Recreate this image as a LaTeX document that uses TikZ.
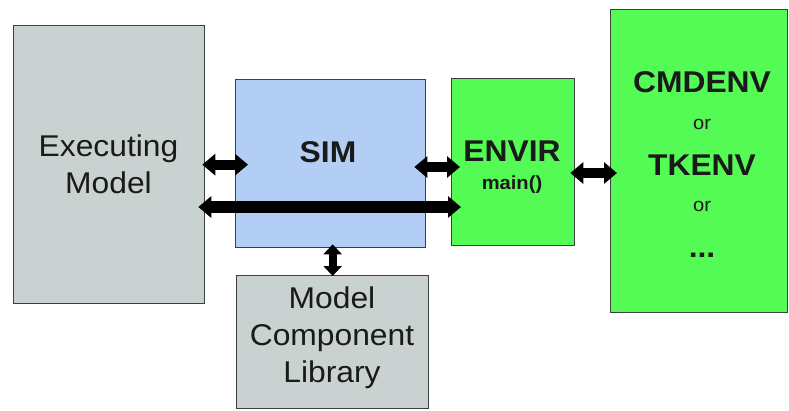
\documentclass[tikz,border=0pt]{standalone}
\usepackage{fontspec}
\setmainfont[FakeStretch=1.06]{Liberation Sans}
\usetikzlibrary{arrows.meta}
\definecolor{boxgray}{HTML}{C9D1D1}
\definecolor{simblue}{HTML}{B3CEF5}
\definecolor{envgreen}{HTML}{55FB55}
\definecolor{edge}{HTML}{3A3F3F}
\definecolor{ink}{HTML}{1A1A1A}
\begin{document}
\begin{tikzpicture}[x=1pt,y=-1pt,
  blk/.style={draw=edge, line width=1.3pt, rectangle, inner sep=0pt, anchor=north west},
  lbl/.style={text=ink, align=center, inner sep=0pt},
  big/.style={font=\fontsize{30}{37}\selectfont},
  bigb/.style={font=\bfseries\fontsize{30}{37}\selectfont},
  small/.style={font=\fontsize{19}{22}\selectfont},
  dbl/.style={line width=10pt, draw=black,
    {Triangle[length=13pt,width=21pt]}-{Triangle[length=13pt,width=21pt]}},
  dblv/.style={line width=8pt, draw=black,
    {Triangle[length=10pt,width=18pt]}-{Triangle[length=10pt,width=18pt]}}]
\useasboundingbox (0,0) rectangle (789,410);
\fill[white] (0,0) rectangle (789,410);
% boxes
\node[blk, fill=boxgray, minimum width=191pt, minimum height=278pt] (exec) at (13,25) {};
\node[blk, fill=simblue, minimum width=190pt, minimum height=168pt] (sim) at (235,79) {};
\node[blk, fill=boxgray, minimum width=192pt, minimum height=133pt] (lib) at (236,275) {};
\node[blk, fill=envgreen, minimum width=123pt, minimum height=167pt] (envir) at (451,78) {};
\node[blk, fill=envgreen, minimum width=177pt, minimum height=303pt] (cmd) at (610,9) {};
% labels
\node[lbl, big] (execl) at (108.5,164) {Executing\\Model};
\node[lbl, bigb] (siml) at (328,152) {SIM};
\node[lbl, big] (libl) at (332,338) {Model\\Component\\Library};
\node[lbl, bigb] (envl) at (512,151) {ENVIR};
\node[lbl, font=\bfseries\fontsize{19}{22}\selectfont] (mainl) at (512,185) {main()};
\node[lbl, bigb] (cmdl) at (702,82) {CMDENV};
\node[lbl, small] (or1) at (702,124) {or};
\node[lbl, bigb] (tkl) at (702,165) {TKENV};
\node[lbl, small] (or2) at (702,206) {or};
\node[lbl, bigb] (dots) at (702,255) {...};
% connectors
\coordinate (busy) at (0,207);
\coordinate (sey) at (0,167);
\coordinate (ecy) at (0,173);
\draw[dbl, shorten <=-3pt, shorten >=-13pt] (exec.east) -- (exec.east -| sim.west);
\draw[dbl, line width=12pt, shorten <=-7pt, shorten >=-10pt] (exec.east |- busy) -- (envir.west |- busy);
\draw[dbl, shorten <=-12pt, shorten >=-9pt] (sim.east |- sey) -- (envir.west |- sey);
\draw[dbl, shorten <=-5pt, shorten >=-7pt] (envir.east |- ecy) -- (cmd.west |- ecy);
\draw[dblv, shorten <=-4pt, shorten >=-1pt] (sim.south -| lib.north) -- (lib.north);
\end{tikzpicture}
\end{document}
